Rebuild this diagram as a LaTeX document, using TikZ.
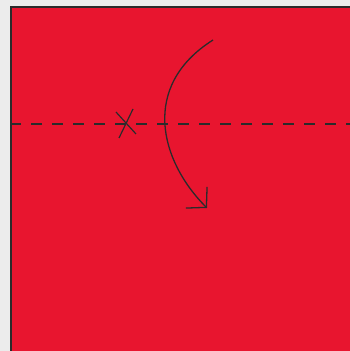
\documentclass[tikz,border=0pt]{standalone}
\usepackage{tikz}
\usepackage{xcolor}
\usetikzlibrary{arrows.meta,calc}

\definecolor{paperred}{HTML}{E8152F}
\definecolor{bggray}{HTML}{ECECEC}
\definecolor{inkgray}{HTML}{2B2B2B}

\begin{document}
\begin{tikzpicture}[x=1pt,y=1pt]
        \useasboundingbox (0,0) rectangle (350,351);
        \clip (0,0) rectangle (350,351);
        \fill[bggray] (0,0) rectangle (350,351);
        % the sheet
        \filldraw[fill=paperred, draw=inkgray, line width=1.5pt] (11,344) rectangle (360,-10);
        % fold line
        \draw[inkgray, line width=1.3pt, dash pattern=on 11pt off 10pt] (10,227) -- (350,227);
        % pivot mark
        \draw[inkgray, line width=1.2pt] (116,239) -- (136,217);
        \draw[inkgray, line width=1.2pt] (133,242) -- (119,213);
        % fold arrow
        \draw[inkgray, line width=1.3pt, -{Straight Barb[length=14pt,width=30pt,line width=1.3pt]}]
            (213,311) .. controls (140,265) and (160,190) .. (207,143);
    \end{tikzpicture}
\end{document}
